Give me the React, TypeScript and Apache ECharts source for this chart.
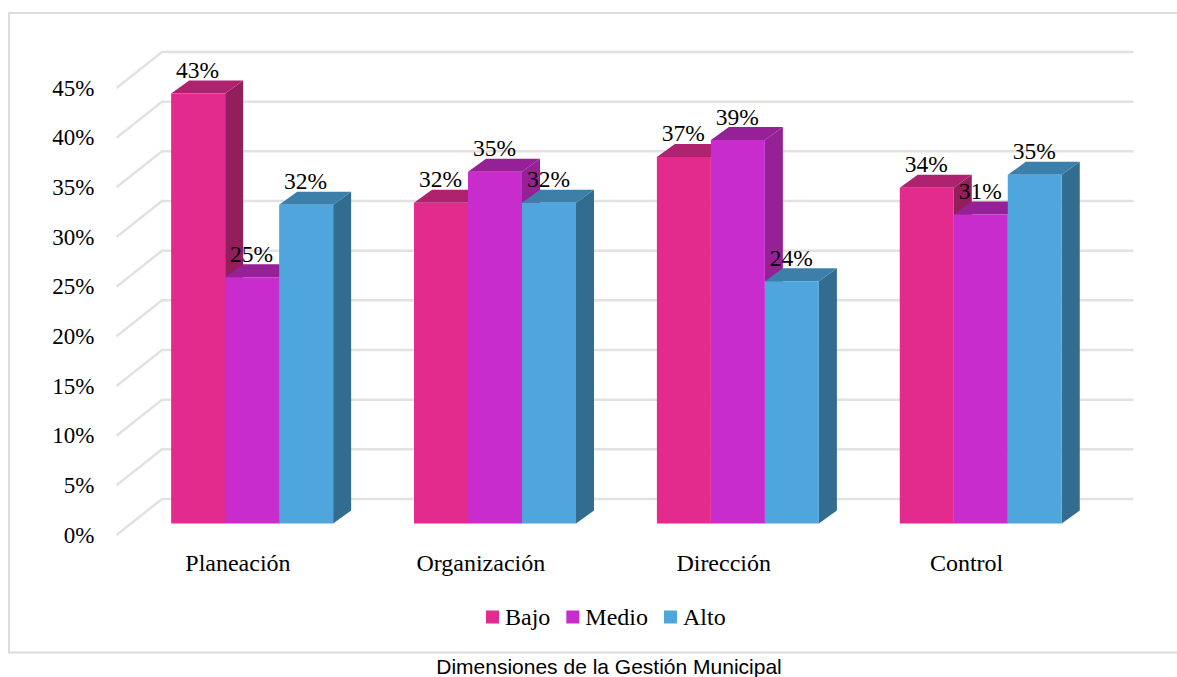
import React, { useEffect, useRef } from "react";
import * as echarts from "echarts";

const categories = ["Planeación", "Organización", "Dirección", "Control"];
const bajo = [43.3, 32.3, 36.9, 33.8];
const medio = [24.8, 35.4, 38.6, 31.1];
const alto = [32.1, 32.3, 24.4, 35.1];
const gridTicks = [0, 5, 10, 15, 20, 25, 30, 35, 40, 45];

const PAL = {
  Bajo: { front: "#E32B8E", top: "#AE2270", side: "#921E5C" },
  Medio: { front: "#C82CCC", top: "#962096", side: "#962096" },
  Alto: { front: "#4FA6DC", top: "#3C7FAA", side: "#326C8F" },
};
const FONT = "'Liberation Serif', serif";
const BAR_W = 54;
const DEPTH_X = 18;
const DEPTH_Y = 13;
const BASE_DX = 14.2; // depth shift from the axis plane to the bars' front
const BASE_DY = 11.5;
const WALL_DX = 45.5;
const WALL_DY = 36;

function barSeries(name: keyof typeof PAL, values: number[], index: number) {
  const c = PAL[name];
  return {
    name,
    type: "custom",
    coordinateSystem: "cartesian2d",
    itemStyle: { color: c.front },
    z: 3 + index,
    data: values.map((v, i) => [i, v]),
    encode: { x: 0, y: 1 },
    renderItem: (_p: any, api: any) => {
      const top = api.coord([api.value(0), api.value(1)]);
      const base = api.coord([api.value(0), 0]);
      const x = top[0] + BASE_DX - (3 * BAR_W) / 2 + index * BAR_W;
      const y = top[1] - BASE_DY;
      const b = base[1] - BASE_DY;
      return {
        type: "group",
        children: [
          {
            type: "polygon",
            shape: { points: [[x + BAR_W, y], [x + BAR_W + DEPTH_X, y - DEPTH_Y], [x + BAR_W + DEPTH_X, b - DEPTH_Y], [x + BAR_W, b]] },
            style: { fill: c.side },
          },
          {
            type: "polygon",
            shape: { points: [[x, y], [x + DEPTH_X, y - DEPTH_Y], [x + BAR_W + DEPTH_X, y - DEPTH_Y], [x + BAR_W, y]] },
            style: { fill: c.top },
          },
          { type: "rect", shape: { x, y, width: BAR_W, height: b - y }, style: { fill: c.front } },
        ],
      };
    },
  };
}

function labelSeries(name: keyof typeof PAL, values: number[], index: number) {
  return {
    name: name + " etiqueta",
    type: "custom",
    coordinateSystem: "cartesian2d",
    z: 20,
    silent: true,
    data: values.map((v, i) => [i, v]),
    encode: { x: 0, y: 1 },
    renderItem: (_p: any, api: any) => {
      const v = api.value(1);
      const top = api.coord([api.value(0), v]);
      const x = top[0] + BASE_DX - (3 * BAR_W) / 2 + index * BAR_W + BAR_W / 2;
      return {
        type: "text",
        style: {
          x: x - 0.5,
          y: top[1] - BASE_DY - DEPTH_Y - 10.5,
          text: Math.round(v) + "%",
          font: `23.5px ${FONT}`,
          fill: "#000",
          align: "center",
          verticalAlign: "middle",
        },
      };
    },
  };
}

const wallSeries = {
  name: "pared",
  type: "custom",
  coordinateSystem: "cartesian2d",
  z: 1,
  silent: true,
  data: gridTicks.map((v) => [0, v]),
  encode: { x: 0, y: 1 },
  renderItem: (p: any, api: any) => {
    const y = api.coord([0, api.value(1)])[1];
    const left = p.coordSys.x;
    const right = left + p.coordSys.width;
    return {
      type: "polyline",
      shape: { points: [[left, y], [left + WALL_DX, y - WALL_DY], [right + WALL_DX, y - WALL_DY]] },
      style: { fill: "none", stroke: "#e2e2e2", lineWidth: 2.5 },
    };
  },
};

export default function App() {
  const ref = useRef<HTMLDivElement>(null);
  useEffect(() => {
    const chart = echarts.init(ref.current!, null, { renderer: "svg" });
    chart.setOption({
      animation: false,
      backgroundColor: "#fff",
      grid: { left: 116.5, width: 971.5, top: 88, height: 447 },
      xAxis: {
        type: "category",
        data: categories,
        axisLine: { show: false },
        axisTick: { show: false },
        axisLabel: { fontFamily: FONT, fontSize: 24, color: "#000", margin: 16 },
      },
      yAxis: {
        type: "value",
        min: 0,
        max: 45,
        interval: 5,
        axisLine: { show: false },
        axisTick: { show: false },
        splitLine: { show: false },
        axisLabel: { fontFamily: FONT, fontSize: 23, color: "#000", margin: 22, formatter: "{value}%" },
      },
      legend: {
        data: ["Bajo", "Medio", "Alto"],
        left: 481,
        top: 600,
        icon: "rect",
        itemWidth: 13,
        itemHeight: 13,
        itemGap: 16,
        textStyle: { fontFamily: FONT, fontSize: 24, color: "#000", padding: [0, 0, 0, 1] },
      },
      graphic: [
        {
          type: "polyline",
          z: 0,
          shape: { points: [[1177, 13], [9, 13], [9, 652.5], [1177, 652.5]] },
          style: { fill: "none", stroke: "#dcdcdc", lineWidth: 2 },
        },
        {
          type: "text",
          style: {
            x: 609,
            y: 666.5,
            text: "Dimensiones de la Gestión Municipal",
            font: "21px 'Liberation Sans', sans-serif",
            fill: "#000",
            align: "center",
            verticalAlign: "middle",
          },
        },
      ],
      series: [
        wallSeries,
        barSeries("Bajo", bajo, 0),
        barSeries("Medio", medio, 1),
        barSeries("Alto", alto, 2),
        labelSeries("Bajo", bajo, 0),
        labelSeries("Medio", medio, 1),
        labelSeries("Alto", alto, 2),
      ],
    });
    return () => chart.dispose();
  }, []);
  return <div ref={ref} style={{ position: "fixed", left: 0, top: 0, width: 1177, height: 677 }} />;
}
